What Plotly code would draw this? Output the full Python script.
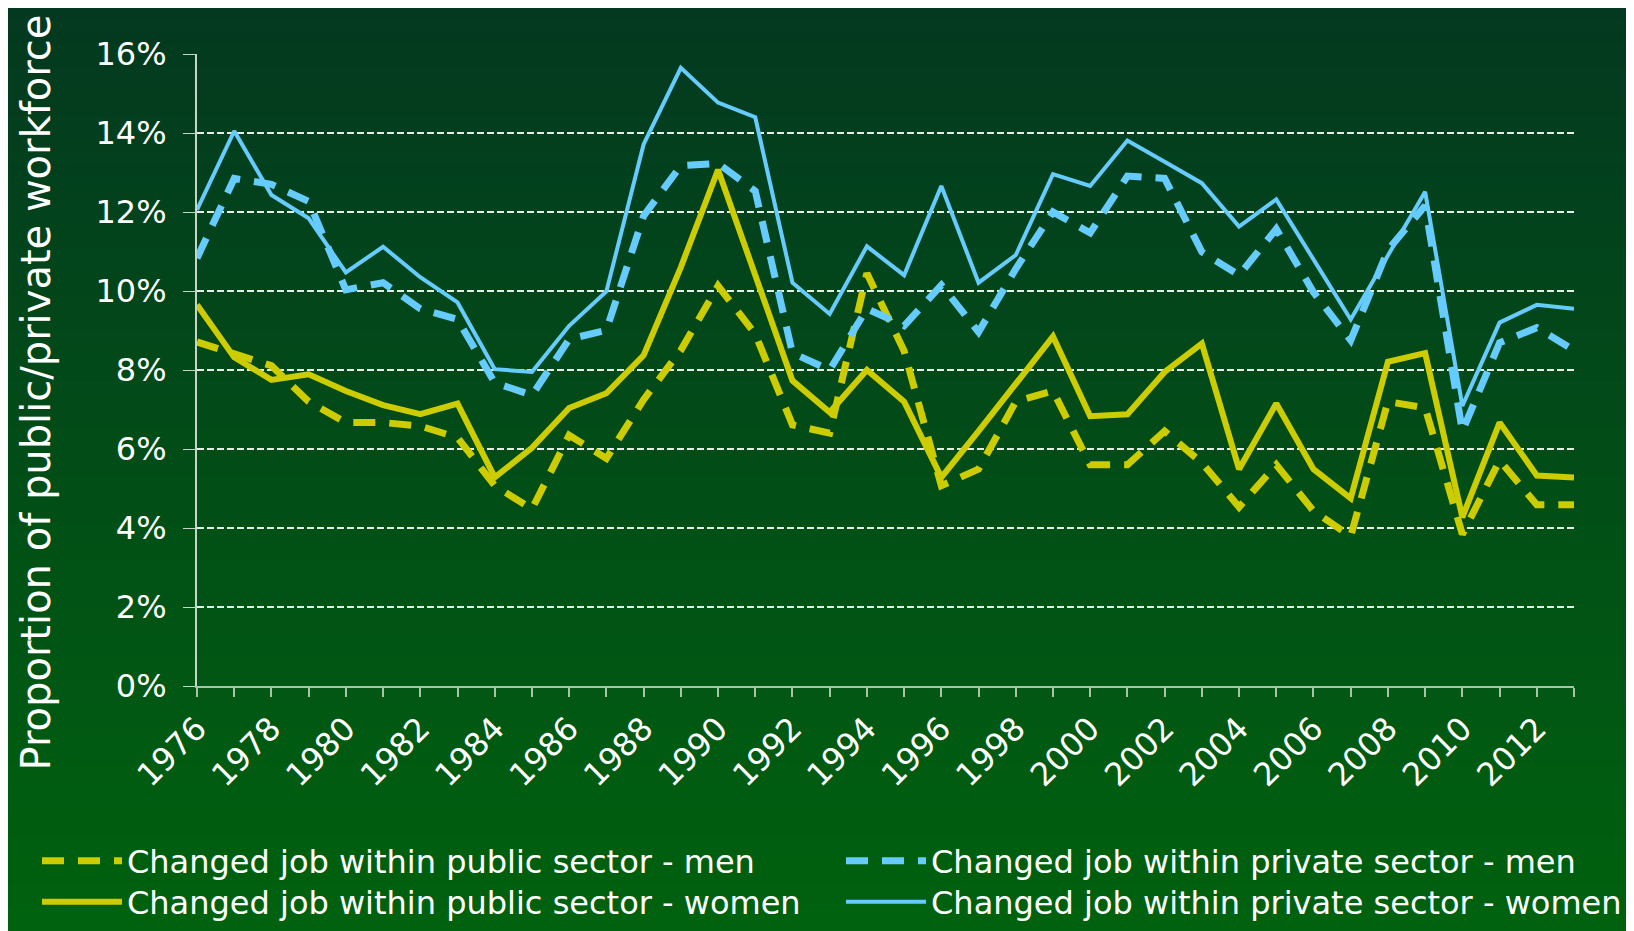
import plotly.graph_objects as go

# years on the x axis
years = list(range(1976, 2014))

# proportions of workforce (%)
public_men = [8.71, 8.39, 8.11, 7.20, 6.67, 6.67, 6.58, 6.29, 5.07, 4.48,
              6.35, 5.76, 7.25, 8.50, 10.13, 8.91, 6.61, 6.40, 10.45, 8.48,
              5.07, 5.49, 7.20, 7.47, 5.60, 5.60, 6.45, 5.65, 4.53, 5.60,
              4.43, 3.79, 7.20, 7.04, 3.84, 5.71, 4.59, 4.59]
private_men = [10.83, 12.85, 12.70, 12.27, 10.03, 10.21, 9.55, 9.28, 7.68, 7.36,
               8.78, 9.01, 11.90, 13.17, 13.23, 12.53, 8.43, 8.00, 9.55, 9.12,
               10.15, 8.96, 10.56, 12.00, 11.47, 12.91, 12.85, 10.99, 10.40, 11.57,
               9.97, 8.75, 11.04, 12.16, 6.45, 8.69, 9.07, 8.50]
public_women = [9.65, 8.32, 7.75, 7.89, 7.47, 7.11, 6.88, 7.15, 5.28, 6.03,
                7.04, 7.41, 8.37, 10.60, 13.07, 10.40, 7.73, 6.93, 8.00, 7.20,
                5.28, 6.45, 7.65, 8.85, 6.83, 6.88, 7.95, 8.67, 5.49, 7.15,
                5.49, 4.75, 8.21, 8.43, 4.27, 6.67, 5.33, 5.28]
private_women = [12.05, 14.05, 12.43, 11.84, 10.47, 11.12, 10.35, 9.71, 8.02, 7.95,
                 9.12, 9.99, 13.71, 15.65, 14.77, 14.40, 10.21, 9.42, 11.13, 10.40,
                 12.66, 10.21, 10.91, 12.96, 12.66, 13.81, 13.27, 12.73, 11.63, 12.32,
                 10.80, 9.28, 10.90, 12.51, 7.09, 9.20, 9.65, 9.55]

labels = ["Changed job within public sector - men",
          "Changed job within private sector - men",
          "Changed job within public sector - women",
          "Changed job within private sector - women"]
y_title = "Proportion of public/private workforce"

YELLOW = "#cccc00"
BLUE = "#66ccff"
FONT = "DejaVu Sans"

W, H = 1634, 931
ML, MT, MR, MB = 189, 46, 68, 253
plot_h = H - MT - MB

fig = go.Figure()
series = [
    (public_men, YELLOW, 7, "22px,14px", "legend"),
    (private_men, BLUE, 7, "22px,14px", "legend2"),
    (public_women, YELLOW, 6, "solid", "legend3"),
    (private_women, BLUE, 4, "solid", "legend4"),
]
for (vals, col, w, dash, leg), name in zip(series, labels):
    fig.add_trace(go.Scatter(
        x=years, y=[v / 100 for v in vals], name=name, mode="lines",
        line=dict(color=col, width=w, dash=dash), legend=leg,
    ))

# vertical gradient background, drawn as thin bands in pixel rows
top = (3, 57, 32)
bottom = (0, 98, 14)
shapes = []
step = 12
for p in range(-48, H + 48, step):
    t = min(max((p + step / 2) / H, 0), 1)
    c = tuple(round(a + (b - a) * t) for a, b in zip(top, bottom))
    y1 = (H - MB - p) / plot_h
    y0 = (H - MB - p - step - 1) / plot_h
    shapes.append(dict(type="rect", xref="paper", yref="paper", layer="below",
                       x0=-0.3, x1=1.2, y0=y0, y1=y1,
                       fillcolor="rgb(%d,%d,%d)" % c, line=dict(width=0)))

tick_text = [str(y) if (y - 1976) % 2 == 0 else "" for y in years]

leg_common = dict(xanchor="left", yanchor="middle",
                  font=dict(size=32, color="white"),
                  bgcolor="rgba(0,0,0,0)", itemwidth=80)
col1, col2 = -0.1162, 0.4677
row1, row2 = -0.2769, -0.3418

fig.update_layout(
    width=W, height=H,
    margin=dict(l=ML, r=MR, t=MT, b=MB, autoexpand=False),
    paper_bgcolor="#004f18", plot_bgcolor="rgba(0,0,0,0)",
    shapes=shapes,
    font=dict(family=FONT, color="white", size=32),
    showlegend=True,
    legend=dict(x=col1, y=row1, **leg_common),
    legend2=dict(x=col2, y=row1, **leg_common),
    legend3=dict(x=col1, y=row2, **leg_common),
    legend4=dict(x=col2, y=row2, **leg_common),
    xaxis=dict(
        range=[1976, 2013], tickvals=years, ticktext=tick_text, tickangle=-45,
        showgrid=False, showline=True, linecolor="#a8c4a8", linewidth=2,
        ticks="outside", ticklen=9, tickwidth=2, tickcolor="#a8c4a8",
        tickfont=dict(size=32, color="white"), zeroline=False, automargin=False,
    ),
    yaxis=dict(
        range=[0, 0.16], dtick=0.02, tickformat=".0%",
        showgrid=True, gridcolor="#e8ece8", gridwidth=1.5, griddash="7px,3px",
        showline=True, linecolor="#c8d4c8", linewidth=2,
        ticks="outside", ticklen=12, tickcolor="#c8d4c8", tickwidth=1,
        tickfont=dict(size=32, color="white"), ticklabelstandoff=10,
        zeroline=False, automargin=False,
    ),
    annotations=[dict(
        text=y_title, textangle=-90, showarrow=False,
        xref="paper", yref="paper", x=-0.1166, y=0.4652,
        xanchor="center", yanchor="middle",
        font=dict(size=40, color="white"),
    )],
)

fig.write_html("out.html")
